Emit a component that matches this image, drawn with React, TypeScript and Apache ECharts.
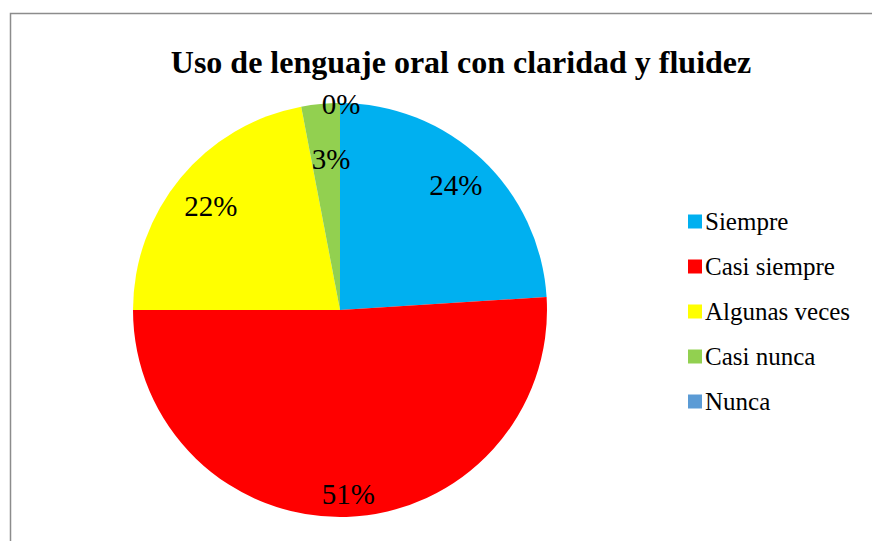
import React, { useEffect, useRef } from "react";
import * as echarts from "echarts";

const titleText = "Uso de lenguaje oral con claridad y fluidez";
const categories = ["Siempre", "Casi siempre", "Algunas veces", "Casi nunca", "Nunca"];
const values = [24, 51, 22, 3, 0];
const colors = ["#00B0F0", "#FF0000", "#FFFF00", "#92D050", "#5B9BD5"];
// label offsets from the default "inside" position (layout only)
const labelOffsets: number[][] = [
  [43, -47],
  [5, 78],
  [-47, -36],
  [1, -45],
  [1, -100],
];

export default function App() {
  const ref = useRef<HTMLDivElement>(null);
  useEffect(() => {
    if (!ref.current) return;
    const chart = echarts.init(ref.current, null, { renderer: "svg" });
    const serif = "Liberation Serif";
    chart.setOption({
      animation: false,
      backgroundColor: "#ffffff",
      title: {
        text: titleText,
        left: 456,
        top: 41,
        textAlign: "center",
        textStyle: { fontFamily: serif, fontWeight: "bold", fontSize: 32, color: "#000" },
      },
      legend: {
        orient: "vertical",
        left: 683,
        top: 204,
        icon: "rect",
        itemWidth: 14,
        itemHeight: 14,
        itemGap: 20,
        data: categories,
        textStyle: { fontFamily: serif, fontSize: 25, color: "#000", padding: [0, 0, 0, -2] },
      },
      graphic: [
        {
          type: "rect",
          shape: { x: 10.5, y: 13.5, width: 900, height: 600 },
          style: { fill: "none", stroke: "#8c8c8c", lineWidth: 1.5 },
          silent: true,
        },
      ],
      series: [
        {
          type: "pie",
          center: [340, 310],
          radius: [0, 207],
          startAngle: 90,
          clockwise: true,
          avoidLabelOverlap: false,
          minShowLabelAngle: 0,
          label: {
            show: true,
            position: "inside",
            formatter: (p: any) => Math.round(p.percent) + "%",
            fontFamily: serif,
            fontSize: 29,
            color: "#000",
          },
          labelLine: { show: false },
          itemStyle: { borderWidth: 0 },
          emphasis: { disabled: true },
          data: categories.map((c, i) => ({
            name: c,
            value: values[i],
            itemStyle: { color: colors[i] },
            label: { offset: labelOffsets[i] },
          })),
        },
      ],
    });
    return () => chart.dispose();
  }, []);
  return (
    <div
      ref={ref}
      style={{ position: "fixed", left: 0, top: 0, width: 872, height: 541 }}
    />
  );
}
